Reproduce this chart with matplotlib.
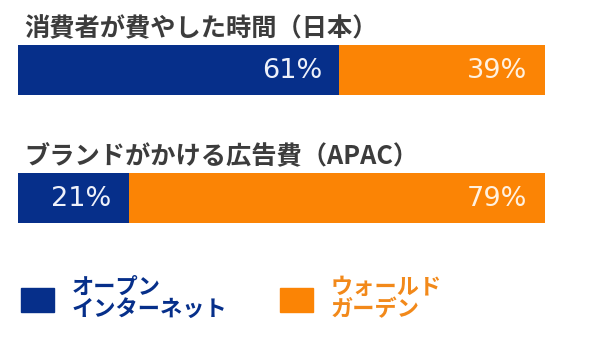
import matplotlib as mpl
import matplotlib.pyplot as plt
from matplotlib.patches import Patch

mpl.rcParams["font.family"] = ["Noto Sans CJK JP", "DejaVu Sans"]

TITLES = ["消費者が費やした時間（日本）", "ブランドがかける広告費（APAC）"]
OPEN_WEB = [61, 21]
WALLED = [39, 79]
SERIES_LABELS = ["オープン\nインターネット", "ウォールド\nガーデン"]
BLUE = "#062F8A"
ORANGE = "#FB8405"
ORANGE_TEXT = "#F2891A"
GREY = "#3C3C3C"

W, H = 600, 355
fig = plt.figure(figsize=(W / 100, H / 100), dpi=100)
ax = fig.add_axes([0, 0, 1, 1])
ax.axis("off")

# map data x (0-100) onto the 18-545 px span, y in pixel rows from the top
scale = (545 - 18) / 100
ax.set_xlim(-18 / scale, (W - 18) / scale)
ax.set_ylim(H, 0)

centers = [70, 198]
bar_h = 50
ax.barh(centers, OPEN_WEB, height=bar_h, color=BLUE, lw=0)
ax.barh(centers, WALLED, left=OPEN_WEB, height=bar_h, color=ORANGE, lw=0)

for yc, title, a, b in zip(centers, TITLES, OPEN_WEB, WALLED):
    ax.text(1.2, yc - bar_h / 2 - 16.5, title, fontsize=18.2, fontweight="bold",
            color=GREY, ha="left", va="center")
    ax.text(a - 3.3, yc + 1, f"{a}%", fontsize=19.5, color="#EEF1FA",
            family=["DejaVu Sans"], ha="right", va="center")
    ax.text(a + b - 3.3, yc + 1, f"{b}%", fontsize=19.5, color="#FFF1E0",
            family=["DejaVu Sans"], ha="right", va="center")

fs = 16
px = fs * 100 / 72
handles = [Patch(color=BLUE), Patch(color=ORANGE)]
leg = fig.legend(handles, SERIES_LABELS, loc="upper left",
                 bbox_to_anchor=(21 / W, 1 - 276 / H), ncol=2, frameon=False,
                 prop={"size": fs, "weight": "bold"}, borderpad=0,
                 borderaxespad=0, handlelength=33 / px, handleheight=28 / px,
                 handletextpad=18 / px, columnspacing=52 / px)
for txt, c in zip(leg.get_texts(), [BLUE, ORANGE_TEXT]):
    txt.set_color(c)
    txt.set_linespacing(0.95)

fig.savefig("out.png", dpi=100)
